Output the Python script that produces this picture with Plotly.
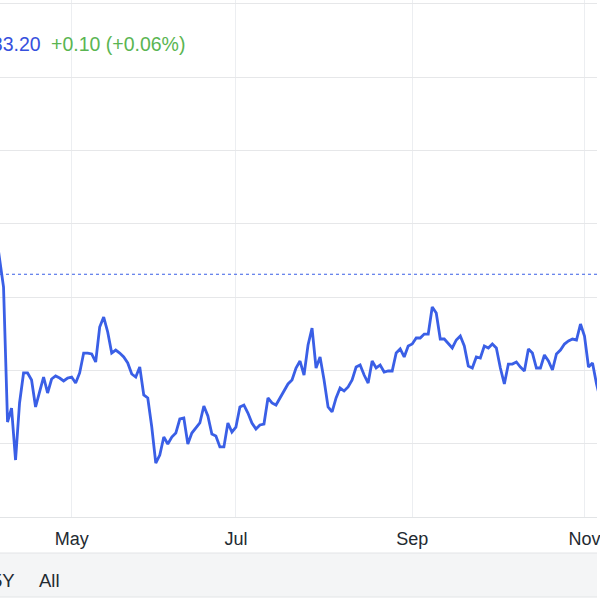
import pandas as pd
import plotly.graph_objects as go

# ---- data ----
holidays = ["2024-05-27", "2024-06-19", "2024-07-04", "2024-09-02"]
start_date = "2024-04-04"

prices = [
    189.14, 185.45, 181.36, 162.95, 164.86, 157.77, 165.55, 169.64, 169.64, 168.68,
    165.00, 167.05, 169.09, 166.91, 168.82, 169.23, 168.95, 168.55, 168.95, 169.09,
    168.27, 169.64, 172.36, 172.36, 172.23, 171.14, 175.91, 177.27, 175.23, 172.36,
    172.77, 172.36, 171.82, 171.00, 169.50, 169.09, 170.45, 166.64, 166.23, 162.27,
    157.36, 158.45, 160.91, 159.95, 160.91, 161.45, 163.36, 163.50, 159.95, 161.45,
    162.14, 162.82, 165.14, 163.77, 161.32, 161.05, 159.55, 159.55, 162.82, 161.59,
    162.27, 165.00, 165.27, 164.18, 162.82, 162.00, 162.55, 162.68, 166.23, 165.55,
    165.27, 166.23, 167.32, 168.14, 168.68, 170.32, 171.27, 169.36, 173.45, 175.77,
    170.32, 171.82, 168.68, 165.00, 164.32, 166.23, 167.59, 167.18, 167.73, 168.68,
    170.45, 170.73, 169.36, 168.27, 171.27, 170.32, 170.73, 169.77, 169.91, 169.91,
    172.36, 172.91, 171.82, 173.32, 173.59, 174.41, 174.41, 174.95, 174.95, 178.64,
    177.82, 174.27, 174.27, 173.73, 173.05, 174.14, 174.68, 173.32, 170.59, 170.32,
    171.82, 171.68, 173.32, 173.05, 173.59, 173.05, 170.32, 168.14, 170.86, 170.86,
    171.14, 170.45, 169.91, 172.91, 172.36, 170.32, 170.32, 172.09, 171.27, 170.05,
    172.23, 172.77, 173.59, 174.00, 174.27, 174.14, 176.32, 174.68, 170.45, 171.00,
    168.14, 165.95,
]

dates = [d.strftime("%Y-%m-%d") for d in
         pd.bdate_range(start=start_date, periods=len(prices), freq="C", holidays=holidays)]

tick_dates = ["2024-05-01", "2024-07-01", "2024-09-03", "2024-11-01"]
tick_labels = ["May", "Jul", "Sep", "Nov"]

prev_close = 183.10
last_price_text = "183.20"
change_text = "+0.10 (+0.06%)"
range_buttons = ["5Y", "All"]

# ---- figure ----
LINE_BLUE = "#3a5fe6"
FONT = "Helvetica Neue, Liberation Sans, Arial, sans-serif"
H_PLOT = 517.0

def py(px):
    return (H_PLOT - px) / H_PLOT

fig = go.Figure()
fig.add_trace(go.Scatter(
    x=dates, y=prices, mode="lines",
    line=dict(color=LINE_BLUE, width=2.8),
    hoverinfo="skip", showlegend=False,
))

fig.add_shape(type="line", xref="paper", x0=0, x1=1, yref="y", y0=prev_close, y1=prev_close,
              line=dict(color=LINE_BLUE, width=1.2, dash="dot"))

# range-selector band
fig.add_shape(type="rect", xref="paper", x0=0, x1=1, yref="paper", y0=py(597), y1=py(553),
              fillcolor="#f4f5f6", line=dict(width=0), layer="below")
fig.add_shape(type="line", xref="paper", x0=0, x1=1, yref="paper", y0=py(553), y1=py(553),
              line=dict(color="#e2e4e6", width=1))
fig.add_shape(type="line", xref="paper", x0=0, x1=1, yref="paper", y0=py(597), y1=py(597),
              line=dict(color="#e2e4e6", width=1))

fig.add_annotation(text=last_price_text, xref="paper", yref="paper", x=43 / 600, y=py(44),
                   xanchor="right", yanchor="middle", showarrow=False,
                   font=dict(family=FONT, size=19.5, color="#3650dd"))
fig.add_annotation(text=change_text, xref="paper", yref="paper", x=49 / 600, y=py(44),
                   xanchor="left", yanchor="middle", showarrow=False,
                   font=dict(family=FONT, size=19.5, color="#5ab552"))
fig.add_annotation(text=range_buttons[0], xref="paper", yref="paper", x=17 / 600, y=py(580),
                   xanchor="right", yanchor="middle", showarrow=False,
                   font=dict(family=FONT, size=18.5, color="#232a31"))
fig.add_annotation(text=range_buttons[1], xref="paper", yref="paper", x=37 / 600, y=py(580),
                   xanchor="left", yanchor="middle", showarrow=False,
                   font=dict(family=FONT, size=18.5, color="#232a31"))

fig.update_layout(
    width=600, height=600,
    margin=dict(l=0, r=0, t=0, b=83, pad=0),
    paper_bgcolor="white", plot_bgcolor="white",
    showlegend=False,
    xaxis=dict(
        type="category",
        range=[1.12, 150.12],
        tickvals=tick_dates, ticktext=tick_labels,
        showgrid=True, gridcolor="#eceef1", gridwidth=1,
        showline=True, linecolor="#e2e4e6", linewidth=1,
        ticks="outside", ticklen=5, tickcolor="rgba(0,0,0,0)",
        tickfont=dict(family=FONT, size=18, color="#232a31"),
        zeroline=False, fixedrange=True,
    ),
    yaxis=dict(
        range=[150, 220.5], tick0=150, dtick=10,
        showticklabels=False, showgrid=True, gridcolor="#e6e7e9", gridwidth=1,
        zeroline=False, showline=False, fixedrange=True,
    ),
)

fig.write_html(
    "out.html",
    default_width="600px",
    default_height="600px",
    config={"displayModeBar": False, "staticPlot": True, "responsive": False},
    post_script="document.documentElement.style.overflow='hidden';document.body.style.margin='0';document.body.style.overflow='hidden';",
)
